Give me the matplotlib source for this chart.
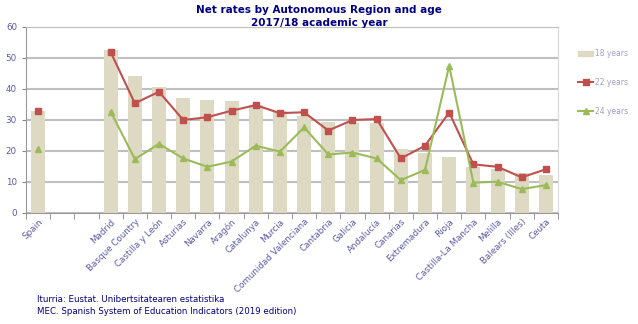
import numpy as np
import matplotlib.pyplot as plt
from matplotlib.lines import Line2D
from matplotlib.patches import Patch

# Data
regions = ['Spain', '', '', 'Madrid', 'Basque Country', 'Castilla y León', 'Asturias',
           'Navarra', 'Aragón', 'Catalunya', 'Murcia', 'Comunidad Valenciana',
           'Cantabria', 'Galicia', 'Andalucía', 'Canarias', 'Extremadura', 'Rioja',
           'Castilla-La Mancha', 'Melilla', 'Balears (Illes)', 'Ceuta']
years18 = [32.9, np.nan, np.nan, 52.6, 44.2, 40.7, 37.0, 36.3, 36.1, 34.8, 32.9, 31.3,
           29.4, 28.9, 28.9, 20.8, 19.2, 18.2, 14.9, 14.1, 12.8, 12.3]
years22 = [32.9, np.nan, np.nan, 51.9, 35.4, 39.1, 30.0, 30.9, 33.0, 34.8, 32.2, 32.5,
           26.6, 30.0, 30.3, 17.6, 21.7, 32.4, 15.7, 14.9, 11.5, 14.1]
years24 = [20.6, np.nan, np.nan, 32.7, 17.4, 22.3, 17.6, 14.9, 16.6, 21.7, 19.8, 27.6,
           18.9, 19.5, 17.6, 10.6, 13.9, 47.5, 9.8, 10.1, 7.7, 9.0]

bar_color = '#DDD9C3'
red = '#C0504D'
green = '#9BBB59'
navy = '#000080'
label_color = '#5B5BA6'

fig = plt.figure(figsize=(6.38, 3.24), dpi=100)
ax = fig.add_axes([0.0408, 0.3426, 0.8338, 0.5741])

x = np.arange(len(regions))
ax.bar(x, years18, width=0.58, color=bar_color, zorder=2)

# lines: Spain point is separate from the regional lines
ax.plot(x[:1], years22[:1], marker='s', color=red, markersize=5, linestyle='none', zorder=3)
ax.plot(x[3:], years22[3:], marker='s', color=red, markersize=5, linewidth=1.5, zorder=3)
ax.plot(x[:1], years24[:1], marker='^', color=green, markersize=5, linestyle='none', zorder=3)
ax.plot(x[3:], years24[3:], marker='^', color=green, markersize=5, linewidth=1.5, zorder=3)

ax.set_xlim(-0.5, len(regions) - 0.5)
ax.set_ylim(0, 60)
ax.set_yticks(range(0, 61, 10))
ax.yaxis.grid(True, color='#BFBFBF', linewidth=1.5, zorder=0)
ax.set_axisbelow(True)

ax.set_xticks(x)
ax.set_xticklabels(regions, rotation=45, ha='right', rotation_mode='anchor',
                   fontsize=6.3, color=label_color)
ax.tick_params(axis='x', length=0, pad=3)
ax.set_xticks(np.arange(-0.5, len(regions)), minor=True)
ax.tick_params(axis='x', which='minor', length=4, color='#888888', direction='out')
ax.tick_params(axis='y', labelsize=6.3, labelcolor=label_color, length=3, color='#888888')

ax.spines['left'].set_color('#999999')
ax.spines['bottom'].set_color('#999999')
ax.spines['top'].set_color('#BFBFBF')
ax.spines['right'].set_color('#D9D9D9')

fig.text(0.5, 0.985, 'Net rates by Autonomous Region and age', ha='center', va='top',
         fontsize=7.5, fontweight='bold', color=navy)
fig.text(0.5, 0.945, '2017/18 academic year', ha='center', va='top',
         fontsize=7.5, fontweight='bold', color=navy)

handles = [Patch(color=bar_color),
           Line2D([], [], color=red, marker='s', markersize=4, linewidth=1.5),
           Line2D([], [], color=green, marker='^', markersize=4, linewidth=1.5)]
fig.legend(handles, ['18 years', '22 years', '24 years'], loc='upper left',
           bbox_to_anchor=(0.895, 0.87), frameon=False, fontsize=5.5,
           labelcolor='#A0A0C8', labelspacing=2.6, handlelength=2.0, handletextpad=0.3)

fig.text(0.058, 0.075, 'Iturria: Eustat. Unibertsitatearen estatistika', fontsize=6.2,
         color=navy, va='center')
fig.text(0.058, 0.038, 'MEC. Spanish System of Education Indicators (2019 edition)',
         fontsize=6.2, color=navy, va='center')

fig.savefig('out.png', dpi=100)
